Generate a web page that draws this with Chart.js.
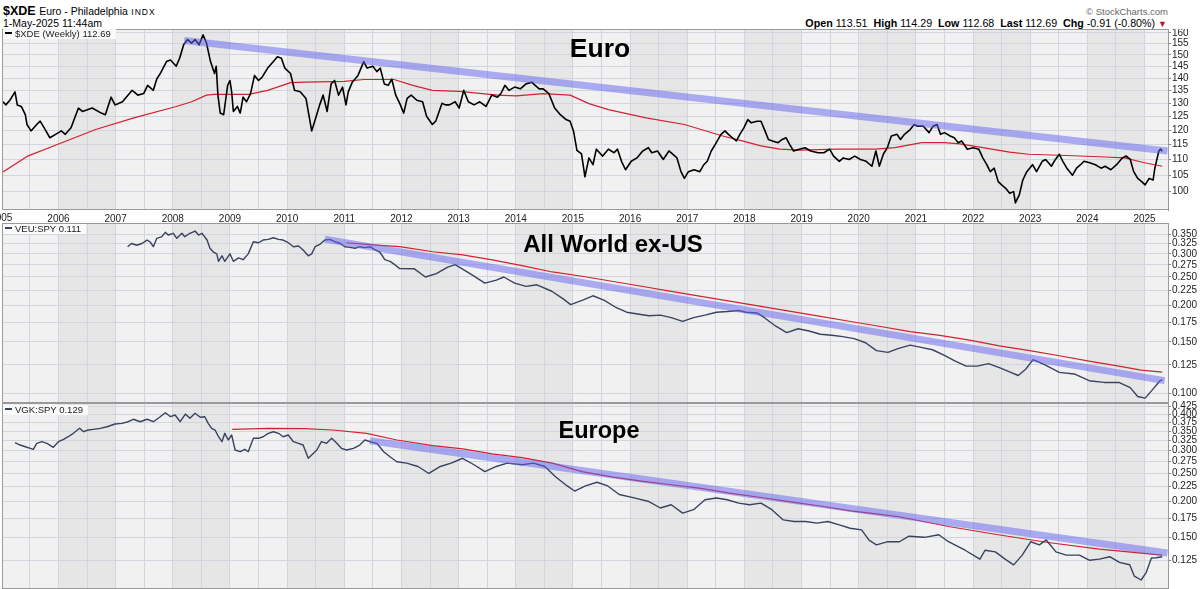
<!DOCTYPE html>
<html><head><meta charset="utf-8">
<script src="https://cdn.jsdelivr.net/npm/chart.js@4.4.1/dist/chart.umd.min.js"></script>
<style>
html,body{margin:0;padding:0;background:#fff;width:1200px;height:589px;overflow:hidden;font-family:"Liberation Sans",Arial,sans-serif;color:#000}
.abs{position:absolute;white-space:nowrap}
canvas{position:absolute;left:0;display:block}
.title{position:absolute;font-weight:bold;white-space:nowrap;line-height:1;transform:translateX(-50%)}
.legend{position:absolute;left:3px;font-size:9.5px;line-height:10px;color:#222;background:rgba(252,252,252,0.9);padding:0 5px 0 1px;white-space:nowrap}
.legend i{display:inline-block;width:7px;height:2px;vertical-align:middle;margin:0 3px 2px 1px}
</style></head><body>

<div class="abs" style="left:3px;top:5.4px;font-size:12.5px;line-height:12.5px"><b>$XDE</b> <span style="font-size:10.5px">Euro - Philadelphia</span> <span style="font-size:8.5px;letter-spacing:1px">INDX</span></div>
<div class="abs" style="left:3px;top:17.8px;font-size:10.5px;line-height:10.5px">1-May-2025 11:44am</div>
<div class="abs" style="right:32px;top:7px;font-size:9.5px;line-height:9.5px;color:#666">© StockCharts.com</div>
<div class="abs" style="right:33px;top:17.6px;font-size:10.7px;line-height:10.7px"><b>Open</b> 113.51&nbsp; <b>High</b> 114.29&nbsp; <b>Low</b> 112.68&nbsp; <b>Last</b> 112.69&nbsp; <b>Chg</b> -0.91 (-0.80%) <span style="color:#c4161c;font-size:9px">▼</span></div>

<canvas id="c1" width="1200" height="194" style="top:29px;width:1200px;height:194px"></canvas>
<canvas id="c2" width="1200" height="180" style="top:223px;width:1200px;height:180px"></canvas>
<canvas id="c3" width="1200" height="194" style="top:395px;width:1200px;height:194px"></canvas>

<div class="legend" style="top:29px"><i style="background:#000"></i>$XDE (Weekly) 112.69</div>
<div class="legend" style="top:224px"><i style="background:#39435f"></i>VEU:SPY 0.111</div>
<div class="legend" style="top:405px"><i style="background:#39435f"></i>VGK:SPY 0.129</div>

<div class="title" style="left:600px;top:34.5px;font-size:26.5px">Euro</div>
<div class="title" style="left:613px;top:232px;font-size:24px">All World ex-US</div>
<div class="title" style="left:599px;top:418.7px;font-size:23.5px">Europe</div>

<script>
// ---------- DATA ----------
const yearLabels = [2006,2007,2008,2009,2010,2011,2012,2013,2014,2015,2016,2017,2018,2019,2020,2021,2022,2023,2024,2025];
const shadedYears = [2006,2008,2010,2012,2014,2016,2018,2020,2022,2024];
const topTicks = [100,105,110,115,120,125,130,135,140,145,150,155,160];
const midTicks = [0.100,0.125,0.150,0.175,0.200,0.225,0.250,0.275,0.300,0.325,0.350];
const botTicks = [0.125,0.150,0.175,0.200,0.225,0.250,0.275,0.300,0.325,0.350,0.375,0.400,0.425];

// $XDE weekly close [decimal year, value]
const xdeWeekly = [
[2005.03,130.5],[2005.08,129.3],[2005.15,131.1],[2005.24,134.4],[2005.28,129.3],[2005.35,128.7],[2005.42,125.6],[2005.45,122.0],[2005.52,119.7],[2005.62,122.0],[2005.68,123.2],[2005.75,120.8],[2005.85,117.3],[2005.95,118.5],
[2006.05,119.7],[2006.12,118.5],[2006.22,120.8],[2006.35,128.1],[2006.42,126.8],[2006.59,128.1],[2006.75,126.2],[2006.82,125.6],[2006.92,132.3],[2006.99,129.3],
[2007.12,130.5],[2007.29,135.0],[2007.39,133.1],[2007.49,133.7],[2007.56,137.0],[2007.66,135.0],[2007.72,139.6],[2007.79,142.3],[2007.89,147.0],[2007.96,147.7],
[2008.06,145.0],[2008.12,148.5],[2008.19,154.5],[2008.26,156.9],[2008.33,155.3],[2008.39,156.9],[2008.46,154.5],[2008.53,159.1],[2008.59,155.3],[2008.66,147.0],[2008.73,141.9],[2008.76,145.0],[2008.79,133.1],[2008.83,126.2],[2008.89,125.6],[2008.96,137.0],
[2009.00,139.0],[2009.03,134.4],[2009.06,126.8],[2009.13,128.7],[2009.18,126.2],[2009.23,132.3],[2009.29,130.5],[2009.36,133.7],[2009.43,141.1],[2009.50,139.0],[2009.56,140.3],[2009.66,144.2],[2009.76,147.0],[2009.83,149.1],[2009.90,148.5],[2009.96,144.2],
[2010.06,141.9],[2010.13,135.0],[2010.23,134.4],[2010.33,131.8],[2010.40,123.2],[2010.43,119.7],[2010.50,124.4],[2010.57,129.3],[2010.63,133.1],[2010.70,126.8],[2010.77,137.6],[2010.83,139.0],[2010.90,133.1],[2010.97,136.3],
[2011.03,129.3],[2011.07,134.4],[2011.14,138.3],[2011.24,141.1],[2011.34,147.0],[2011.40,144.2],[2011.50,145.0],[2011.57,142.7],[2011.63,144.2],[2011.70,137.6],[2011.77,137.0],[2011.83,139.6],[2011.90,133.1],[2011.97,129.9],
[2012.04,126.2],[2012.10,131.8],[2012.17,133.1],[2012.27,131.1],[2012.37,130.5],[2012.44,125.0],[2012.54,122.0],[2012.60,123.2],[2012.71,129.9],[2012.77,129.3],[2012.84,129.3],[2012.94,130.5],
[2013.01,128.1],[2013.09,135.0],[2013.17,130.5],[2013.27,129.3],[2013.37,130.5],[2013.48,128.7],[2013.58,133.1],[2013.68,132.3],[2013.74,133.7],[2013.81,137.0],[2013.88,135.0],[2013.98,136.3],
[2014.08,135.6],[2014.18,137.6],[2014.28,138.3],[2014.34,137.0],[2014.41,135.6],[2014.48,135.6],[2014.58,133.7],[2014.68,128.1],[2014.78,125.6],[2014.88,123.8],[2014.95,123.2],
[2015.01,119.7],[2015.07,113.0],[2015.15,111.8],[2015.21,104.5],[2015.28,110.5],[2015.35,108.3],[2015.41,113.4],[2015.52,111.1],[2015.62,113.4],[2015.72,112.2],[2015.78,113.4],[2015.85,109.4],[2015.92,106.7],
[2016.02,109.4],[2016.12,110.5],[2016.22,112.8],[2016.32,113.9],[2016.38,112.2],[2016.48,112.8],[2016.58,110.0],[2016.68,112.8],[2016.82,110.5],[2016.89,106.1],[2016.95,104.0],
[2017.02,106.1],[2017.12,106.7],[2017.22,106.1],[2017.29,108.3],[2017.35,109.4],[2017.42,112.8],[2017.49,115.0],[2017.59,118.5],[2017.66,119.7],[2017.72,118.5],[2017.79,117.3],[2017.86,116.2],[2017.92,118.5],[2017.99,120.8],
[2018.06,123.8],[2018.12,122.6],[2018.22,123.2],[2018.29,123.2],[2018.36,119.7],[2018.42,116.7],[2018.49,116.2],[2018.59,115.6],[2018.66,116.7],[2018.73,117.3],[2018.79,115.0],[2018.86,112.8],[2018.96,113.4],
[2019.06,113.9],[2019.16,112.8],[2019.29,112.2],[2019.39,112.2],[2019.49,113.4],[2019.56,111.1],[2019.66,109.4],[2019.73,110.5],[2019.83,110.0],[2019.93,111.1],
[2020.03,110.0],[2020.13,109.4],[2020.23,107.8],[2020.30,112.8],[2020.36,107.8],[2020.43,111.7],[2020.50,113.9],[2020.57,117.9],[2020.67,118.5],[2020.73,116.7],[2020.80,118.5],[2020.90,120.2],[2020.97,122.0],
[2021.03,121.4],[2021.13,121.4],[2021.23,119.1],[2021.30,121.4],[2021.37,122.0],[2021.43,118.5],[2021.50,119.1],[2021.60,117.9],[2021.67,117.3],[2021.74,115.6],[2021.80,116.2],[2021.90,113.4],
[2022.00,113.9],[2022.10,113.4],[2022.17,110.5],[2022.24,108.3],[2022.30,106.1],[2022.37,107.2],[2022.44,103.0],[2022.50,102.0],[2022.57,101.0],[2022.64,99.5],[2022.71,100.0],[2022.74,96.7],[2022.81,99.1],[2022.87,103.5],[2022.94,106.1],
[2023.04,108.3],[2023.11,106.1],[2023.21,109.4],[2023.27,110.0],[2023.37,107.8],[2023.44,110.0],[2023.51,111.7],[2023.57,109.4],[2023.64,107.2],[2023.74,105.0],[2023.81,107.2],[2023.88,108.3],[2023.94,109.4],
[2024.04,108.9],[2024.14,108.3],[2024.24,107.2],[2024.31,107.8],[2024.41,106.7],[2024.51,108.3],[2024.61,110.5],[2024.68,111.1],[2024.75,110.0],[2024.81,106.1],[2024.88,104.0],[2024.95,103.0],
[2025.01,102.0],[2025.08,104.0],[2025.15,103.5],[2025.18,107.2],[2025.25,112.8],[2025.28,113.4],[2025.31,112.69]
];
const xdeMA = [
[2005.03,106.0],[2005.45,111.0],[2005.98,115.0],[2006.65,120.2],[2007.32,124.4],[2008.06,128.7],[2008.33,130.5],[2008.59,133.1],[2008.73,133.4],[2009.33,133.4],[2009.66,135.0],[2010.06,138.1],[2010.33,138.3],[2011.00,138.6],[2011.34,139.4],[2011.87,139.4],[2012.20,137.0],[2012.54,135.0],[2013.01,134.6],[2013.68,133.1],[2014.01,132.8],[2014.48,133.7],[2014.95,133.1],[2015.28,129.8],[2015.62,127.5],[2016.28,124.4],[2016.95,122.0],[2017.62,117.9],[2017.96,116.2],[2018.29,114.5],[2018.62,113.4],[2018.96,113.1],[2019.63,113.4],[2020.30,113.4],[2020.63,113.9],[2021.10,115.6],[2021.50,115.6],[2021.77,115.2],[2022.17,113.9],[2022.64,112.4],[2022.97,111.7],[2023.64,111.3],[2024.31,110.8],[2024.65,110.5],[2024.98,109.0],[2025.31,107.8]
];
const xdeTrend = [[2008.2,156.5],[2025.4,112.8]];

// VEU:SPY ratio
const veuRatio = [
[2007.21,.3174],[2007.28,.3255],[2007.37,.3211],[2007.46,.3255],[2007.55,.3345],[2007.60,.330],[2007.66,.3174],[2007.72,.339],[2007.81,.3435],[2007.87,.3555],[2007.92,.348],
[2008.01,.3528],[2008.07,.339],[2008.16,.3528],[2008.21,.3435],[2008.30,.3528],[2008.39,.359],[2008.45,.348],[2008.51,.3528],[2008.60,.3345],[2008.65,.3135],[2008.71,.3044],[2008.77,.300],[2008.80,.2829],[2008.86,.2955],[2008.91,.2829],
[2009.00,.300],[2009.06,.2829],[2009.15,.2905],[2009.23,.2865],[2009.32,.300],[2009.41,.330],[2009.50,.3275],[2009.58,.3345],[2009.67,.3363],[2009.76,.3407],[2009.85,.3363],[2009.93,.3345],
[2010.02,.3275],[2010.11,.3174],[2010.20,.319],[2010.28,.3094],[2010.37,.2955],[2010.43,.300],[2010.49,.3174],[2010.58,.3242],[2010.66,.3345],[2010.75,.3363],[2010.84,.330],[2010.93,.3255],
[2011.01,.3174],[2011.10,.3158],[2011.19,.3135],[2011.27,.3174],[2011.36,.315],[2011.45,.3174],[2011.54,.3094],[2011.62,.3044],[2011.71,.2865],[2011.80,.2829],[2011.89,.2749],[2011.97,.267],
[2012.22,.2669],[2012.42,.25],[2012.61,.2568],[2012.81,.2703],[2012.94,.2757],[2013.20,.2568],[2013.46,.2381],[2013.66,.244],[2013.79,.25],[2013.98,.2381],
[2014.18,.2321],[2014.37,.2351],[2014.63,.2234],[2014.83,.2104],[2014.96,.201],[2015.16,.2078],[2015.35,.2156],[2015.55,.2078],[2015.74,.1973],[2015.94,.1894],
[2016.13,.1867],[2016.33,.1841],[2016.53,.1851],[2016.72,.1814],[2016.92,.1761],[2017.11,.1814],[2017.31,.1851],[2017.51,.1894],[2017.70,.1904],[2017.90,.192],
[2018.03,.1894],[2018.22,.1883],[2018.35,.1814],[2018.55,.1696],[2018.74,.1613],[2018.94,.1663],[2019.13,.1633],[2019.33,.1592],[2019.53,.1579],[2019.72,.1563],[2019.92,.1538],
[2020.12,.1489],[2020.31,.1399],[2020.51,.138],[2020.70,.1424],[2020.90,.1461],[2021.09,.1435],[2021.29,.1409],[2021.49,.1351],[2021.68,.129],[2021.88,.1238],
[2022.07,.1238],[2022.27,.1263],[2022.46,.1223],[2022.66,.1179],[2022.79,.115],[2022.92,.1208],[2023.05,.1304],[2023.25,.1253],[2023.51,.1179],[2023.77,.1164],
[2024.03,.1104],[2024.29,.1089],[2024.55,.1089],[2024.75,.1045],[2024.88,.0975],[2025.01,.0962],[2025.14,.1029],[2025.27,.1104],[2025.31,.111]
];
const veuMA = [
[2011.04,.3275],[2011.50,.322],[2011.97,.3174],[2012.55,.305],[2013.07,.2977],[2013.59,.2862],[2014.11,.2736],[2014.64,.2601],[2015.16,.2514],[2015.68,.2417],[2016.20,.2324],[2016.72,.2233],[2017.24,.2147],[2017.77,.2062],[2018.29,.1982],[2018.81,.1906],[2019.33,.1832],[2019.86,.176],[2020.38,.1692],[2020.90,.1625],[2021.42,.1579],[2021.94,.1521],[2022.46,.1453],[2022.99,.1399],[2023.51,.1344],[2024.03,.1289],[2024.55,.1238],[2024.94,.120],[2025.31,.1182]
];
const veuTrend = [[2010.66,.337],[2025.35,.1105]];

// VGK:SPY ratio
const vgkRatio = [
[2005.24,.3193],[2005.33,.3134],[2005.42,.3092],[2005.51,.3053],[2005.56,.3029],[2005.62,.3177],[2005.71,.3218],[2005.80,.3177],[2005.91,.3078],
[2006.00,.3218],[2006.09,.328],[2006.17,.3348],[2006.26,.344],[2006.37,.3579],[2006.44,.3484],[2006.52,.3531],[2006.61,.355],[2006.73,.3579],[2006.85,.3625],[2006.99,.3704],
[2007.11,.3724],[2007.22,.3772],[2007.31,.3846],[2007.43,.3772],[2007.55,.3846],[2007.66,.3772],[2007.78,.3925],[2007.87,.4052],[2007.96,.3925],
[2008.04,.3978],[2008.13,.3772],[2008.22,.401],[2008.30,.3876],[2008.39,.4033],[2008.48,.3907],[2008.56,.3925],[2008.62,.3724],[2008.68,.3579],[2008.74,.3531],[2008.80,.3348],[2008.86,.3218],[2008.91,.344],[2008.97,.3262],
[2009.03,.3394],[2009.09,.3012],[2009.18,.2972],[2009.26,.3029],[2009.32,.2972],[2009.41,.3306],[2009.50,.3306],[2009.58,.3348],[2009.67,.344],[2009.76,.3484],[2009.85,.344],[2009.93,.3348],
[2010.02,.3394],[2010.11,.3218],[2010.20,.3177],[2010.28,.3134],[2010.37,.282],[2010.43,.2895],[2010.52,.3012],[2010.60,.3218],[2010.69,.3177],[2010.78,.3306],[2010.87,.3177],[2010.95,.3053],
[2011.04,.3012],[2011.16,.3053],[2011.27,.3134],[2011.36,.3262],[2011.45,.3218],[2011.57,.3177],[2011.69,.2972],[2011.80,.2856],[2011.92,.2745],
[2012.09,.2714],[2012.29,.2643],[2012.48,.25],[2012.68,.2643],[2012.87,.2714],[2013.07,.2821],[2013.27,.2679],[2013.46,.2536],[2013.66,.2643],[2013.85,.2714],
[2014.11,.2679],[2014.31,.2714],[2014.51,.2643],[2014.70,.2432],[2014.90,.2264],[2015.03,.2174],[2015.22,.2264],[2015.42,.2331],[2015.61,.2264],[2015.81,.2116],
[2016.07,.2058],[2016.33,.200],[2016.53,.190],[2016.72,.195],[2016.92,.1825],[2017.11,.1875],[2017.31,.2029],[2017.51,.2058],[2017.70,.2029],[2017.90,.1975],
[2018.09,.195],[2018.29,.1975],[2018.48,.1875],[2018.68,.1728],[2018.87,.1706],[2019.07,.1706],[2019.27,.1684],[2019.46,.1706],[2019.66,.1662],[2019.85,.1618],
[2020.05,.1596],[2020.18,.1471],[2020.31,.1418],[2020.51,.1454],[2020.71,.1453],[2020.88,.1518],[2021.15,.1505],[2021.40,.1536],[2021.57,.1453],[2021.86,.1358],
[2022.12,.1265],[2022.21,.1358],[2022.39,.134],[2022.56,.1265],[2022.71,.1209],[2022.86,.1306],[2023.01,.1453],[2023.16,.1417],[2023.28,.1474],[2023.45,.134],[2023.63,.1306],[2023.86,.1306],
[2024.04,.1254],[2024.21,.1265],[2024.39,.129],[2024.56,.1233],[2024.74,.121],[2024.82,.1106],[2024.94,.1072],[2025.03,.114],[2025.12,.1277],[2025.20,.128],[2025.31,.129]
];
const vgkMA = [
[2009.04,.355],[2009.67,.3579],[2010.30,.357],[2010.80,.3531],[2011.39,.344],[2011.92,.3262],[2012.55,.312],[2013.07,.3039],[2013.59,.292],[2014.11,.2835],[2014.64,.2714],[2015.16,.2536],[2015.68,.2432],[2016.20,.2351],[2016.72,.2285],[2017.24,.222],[2017.77,.2135],[2018.29,.2065],[2018.81,.1995],[2019.33,.193],[2019.86,.1858],[2020.38,.1805],[2020.71,.1772],[2021.57,.164],[2022.44,.1536],[2023.28,.1447],[2024.21,.137],[2025.31,.1306]
];
const vgkTrend = [[2011.45,.3244],[2025.4,.1329]];

// ---------- RENDER ----------
const X_MIN = 2005.03, X_MAX = 2025.41;
const FONT = '"Liberation Sans", Arial, sans-serif';
const GRID = '#d0d5de';
const pts = arr => arr.map(p => ({x:p[0], y:p[1]}));
const gridYears = [];
yearLabels.forEach(y => { gridYears.push(y - 0.5, y); });

const panelPlugin = {
  id:'panelPlugin',
  beforeDraw(chart){
    const {ctx, chartArea:a, scales:{x}} = chart;
    ctx.save();
    ctx.fillStyle = '#f1f1f1';
    ctx.fillRect(a.left, a.top, a.right-a.left, a.bottom-a.top);
    ctx.beginPath(); ctx.rect(a.left, a.top, a.right-a.left, a.bottom-a.top); ctx.clip();
    ctx.fillStyle = '#e6e6e6';
    shadedYears.forEach(y => {
      const x0 = x.getPixelForValue(y), x1 = x.getPixelForValue(y+1);
      ctx.fillRect(x0, a.top, x1-x0, a.bottom-a.top);
    });
    ctx.restore();
  },
  afterDraw(chart, args, opts){
    const {ctx, chartArea:a, scales:{x}} = chart;
    ctx.save();
    ctx.strokeStyle = '#9a9a9a'; ctx.lineWidth = 1;
    ctx.strokeRect(Math.round(a.left)-0.5, Math.round(a.top)+0.5, Math.round(a.right-a.left)+1, Math.round(a.bottom-a.top)-1);
    if (opts && opts.firstLabel) {
      ctx.fillStyle = '#222';
      ctx.font = '10px ' + FONT;
      ctx.textAlign = 'center'; ctx.textBaseline = 'top';
      ctx.fillText(String(opts.firstLabel), x.getPixelForValue(opts.firstLabel), a.bottom + 3);
    }
    ctx.restore();
  }
};

function xScale(showLabels){
  return {
    type:'linear', min:X_MIN, max:X_MAX,
    afterBuildTicks: ax => { ax.ticks = gridYears.filter(v => v >= X_MIN && v <= X_MAX).map(v => ({value:v})); },
    ticks:{display:showLabels, autoSkip:false, maxRotation:0, minRotation:0, padding:3, color:'#222',
      font:{size:10, family:FONT}, callback: v => Number.isInteger(v) ? String(v) : ''},
    grid:{color:GRID, lineWidth:1, drawTicks:false},
    border:{display:false},
    afterFit: ax => { ax.height = showLabels ? 13 : 0; ax.paddingLeft = 0; ax.paddingRight = 0; }
  };
}
function yScale(min, max, tickVals, digits){
  return {
    type:'logarithmic', position:'right', min, max,
    afterBuildTicks: ax => { ax.ticks = tickVals.map(v => ({value:v})); },
    ticks:{autoSkip:false, padding:1, color:'#222', font:{size:10, family:FONT},
      callback: v => Number(v).toFixed(digits)},
    grid:{color:GRID, lineWidth:1, tickColor:'#888', tickLength:3, drawTicks:true},
    border:{display:true, color:'#999'},
    afterFit: ax => { ax.width = 32; ax.paddingTop = 0; ax.paddingBottom = 0; }
  };
}
function ds(data, color, width, order){
  return {data:pts(data), borderColor:color, borderWidth:width, pointRadius:0, tension:0, order, clip:0, borderJoinStyle:'round', fill:false};
}
function makeChart(id, datasets, y, showX, firstLabel, padTop){
  return new Chart(document.getElementById(id), {
    type:'line',
    data:{datasets},
    options:{
      responsive:false, animation:false, devicePixelRatio:1,
      layout:{padding:{left:3, right:0, top:padTop, bottom:0}},
      plugins:{legend:{display:false}, tooltip:{enabled:false}, panelPlugin:{firstLabel}},
      scales:{x:xScale(showX), y}
    },
    plugins:[panelPlugin]
  });
}

const TREND = 'rgba(100,100,240,0.5)';
const RED = '#d42030';
const SLATE = '#39435f';

makeChart('c1', [
  ds(xdeTrend, TREND, 7, 0),
  ds(xdeWeekly, '#000', 1.6, 1),
  ds(xdeMA, RED, 1.2, 2)
], yScale(94.7, 161.9, topTicks, 0), true, 2005, 0);

makeChart('c2', [
  ds(veuTrend, TREND, 7, 0),
  ds(veuRatio, SLATE, 1.4, 1),
  ds(veuMA, RED, 1.2, 2)
], yScale(0.0926, 0.3826, midTicks, 3), false, null, 0);

makeChart('c3', [
  ds(vgkTrend, TREND, 7, 0),
  ds(vgkRatio, SLATE, 1.4, 1),
  ds(vgkMA, RED, 1.2, 2)
], yScale(0.0998, 0.4377, botTicks, 3), false, null, 8);
</script>
</body></html>
